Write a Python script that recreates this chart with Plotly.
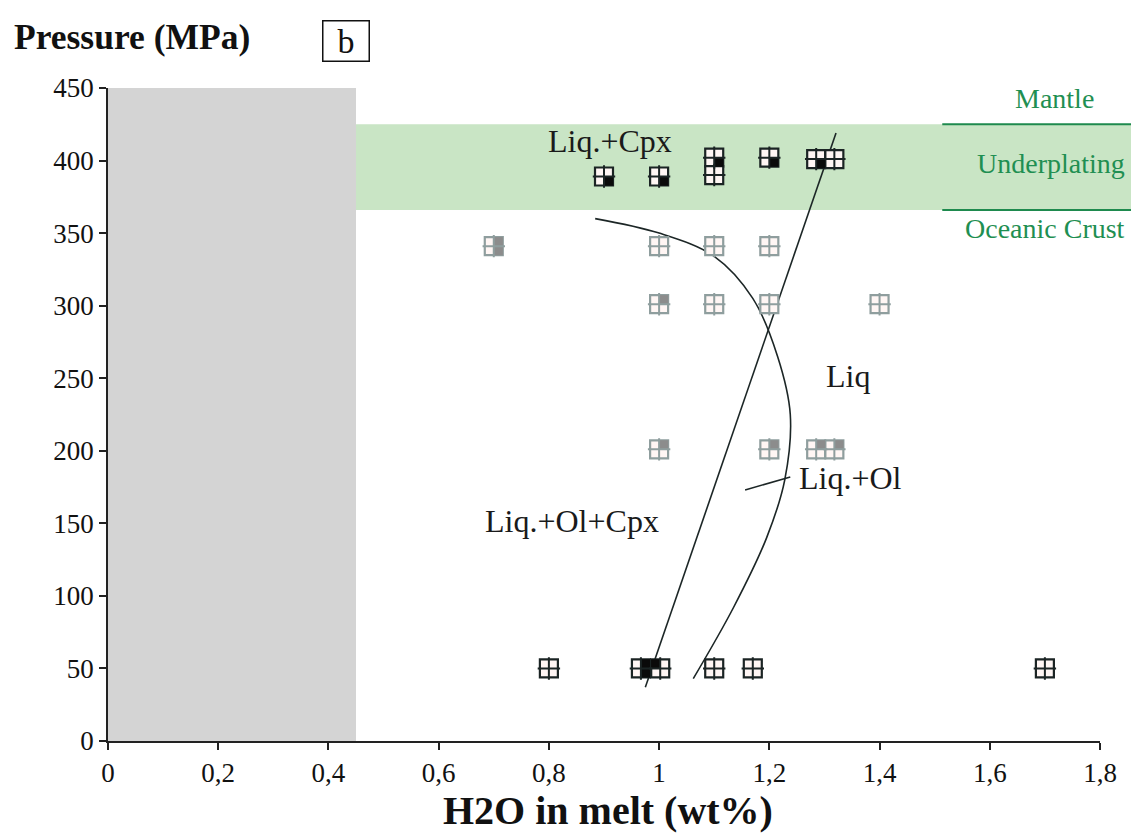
import plotly.graph_objects as go

# ---------------- data ----------------
# Underplating experiments (~400 MPa), black symbols
up_x = [0.90, 1.00, 1.10, 1.10, 1.20, 1.285, 1.318]
up_y = [389, 389, 402, 390, 402, 401, 401]
up_fill = [["BR"], ["BR"], ["BR"], [], ["BR"], ["BR"], []]

# Oceanic crust experiments, grey symbols
oc_x = [0.70, 1.00, 1.10, 1.20, 1.00, 1.10, 1.20, 1.40, 1.00, 1.20, 1.285, 1.318]
oc_y = [341, 341, 341, 341, 301, 301, 301, 301, 201, 201, 201, 201]
oc_fill = [["TR", "BR"], [], [], [], ["TR"], [], [], [], ["TR"], ["TR"], ["TR"], ["TR"]]

# Low pressure experiments (50 MPa), black symbols
lp_x = [0.80, 0.967, 1.002, 1.10, 1.17, 1.70]
lp_y = [50, 50, 50, 50, 50, 50]
lp_fill = [[], ["TR", "BR"], ["TL"], [], [], []]

# Phase boundaries
cpx_line_x = [0.975, 1.321]
cpx_line_y = [37, 419]
ol_curve_x = [0.884, 1.0, 1.10, 1.17, 1.215, 1.238, 1.228, 1.195, 1.135, 1.062]
ol_curve_y = [360, 350, 334, 305, 265, 225, 180, 140, 92, 43]
leader_x = [1.156, 1.238]
leader_y = [173, 182]

x_ticks = [0, 0.2, 0.4, 0.6, 0.8, 1.0, 1.2, 1.4, 1.6, 1.8]
y_ticks = [0, 50, 100, 150, 200, 250, 300, 350, 400, 450]

# ---------------- figure ----------------
W, H = 1131, 826
ML, MR, MT, MB = 100, 39, 80, 93
XR = (0, 1.8)
YR = (0, 450)
px_per_x = (W - ML - MR) / (XR[1] - XR[0])
px_per_y = (H - MT - MB) / (YR[1] - YR[0])

SERIF = "Liberation Serif"
GREEN_TXT = "#1f8f52"
GREEN_LINE = "#1e8a4e"
GREEN_BAND = "#c9e5c5"
INK = "#1c2626"

fig = go.Figure()

# grey region (H2O < 0.45)
fig.add_shape(type="rect", xref="x", yref="y", x0=0, x1=0.45, y0=0, y1=450,
              fillcolor="#d4d4d4", line=dict(width=0), layer="below")
# underplating band
fig.add_shape(type="rect", xref="paper", yref="y", x0=0.45 / 1.8, x1=1.05, y0=366, y1=425,
              fillcolor=GREEN_BAND, line=dict(width=0), layer="below")
for yy in (366, 425):
    fig.add_shape(type="line", xref="paper", yref="y", x0=0.841, x1=1.05, y0=yy, y1=yy,
                  line=dict(color=GREEN_LINE, width=2))

# phase boundary lines
fig.add_trace(go.Scatter(x=cpx_line_x, y=cpx_line_y, mode="lines",
                         line=dict(color=INK, width=1.6), hoverinfo="skip", showlegend=False))
fig.add_trace(go.Scatter(x=ol_curve_x, y=ol_curve_y, mode="lines",
                         line=dict(color=INK, width=1.6, shape="spline", smoothing=1.0),
                         hoverinfo="skip", showlegend=False))
fig.add_trace(go.Scatter(x=leader_x, y=leader_y, mode="lines",
                         line=dict(color=INK, width=1.6), hoverinfo="skip", showlegend=False))

SIZE = 18
OFF = 4.6
QUAD = {"TL": (-1, 1), "TR": (1, 1), "BL": (-1, -1), "BR": (1, -1)}


def add_quads(xs, ys, fills, frame, fillc):
    fig.add_trace(go.Scatter(x=xs, y=ys, mode="markers",
                             marker=dict(symbol="square", size=SIZE, color="#fff6f4",
                                         line=dict(color=frame, width=2.2)),
                             showlegend=False, hoverinfo="skip"))
    qx, qy = [], []
    for x, y, f in zip(xs, ys, fills):
        for q in f:
            sx, sy = QUAD[q]
            qx.append(x + sx * OFF / px_per_x)
            qy.append(y + sy * OFF / px_per_y)
    if qx:
        fig.add_trace(go.Scatter(x=qx, y=qy, mode="markers",
                                 marker=dict(symbol="square", size=9, color=fillc, line=dict(width=0)),
                                 showlegend=False, hoverinfo="skip"))
    fig.add_trace(go.Scatter(x=xs, y=ys, mode="markers",
                             marker=dict(symbol="cross-thin", size=SIZE - 2,
                                         line=dict(color=frame, width=2)),
                             showlegend=False, hoverinfo="skip"))


add_quads(up_x, up_y, up_fill, "#1b2424", "#0a0a0a")
add_quads(oc_x, oc_y, oc_fill, "#8f9e9e", "#8c8c8c")
add_quads(lp_x, lp_y, lp_fill, "#1b2424", "#0a0a0a")

# phase field labels
for txt, x, y in [("Liq.+Cpx", 0.911, 413.5), ("Liq", 1.343, 251.5),
                  ("Liq.+Ol", 1.347, 181), ("Liq.+Ol+Cpx", 0.842, 151.6)]:
    fig.add_annotation(text=txt, x=x, y=y, xref="x", yref="y", showarrow=False,
                       xanchor="center", yanchor="middle",
                       font=dict(family=SERIF, size=32, color="#1a1a1a"))

# tectonic labels
for txt, x, y in [("Mantle", 0.954, 442.5), ("Underplating", 0.951, 398), ("Oceanic Crust", 0.945, 353)]:
    fig.add_annotation(text=txt, x=x, y=y, xref="paper", yref="y", showarrow=False,
                       xanchor="center", yanchor="middle",
                       font=dict(family=SERIF, size=28, color=GREEN_TXT))

# axis titles
fig.add_annotation(text="<b>Pressure (MPa)</b>", x=-0.0968, y=1.078, xref="paper", yref="paper",
                   xanchor="left", yanchor="middle", showarrow=False,
                   font=dict(family=SERIF, size=35.5, color="#111111"))
fig.add_annotation(text="<b>H2O in melt (wt%)</b>", x=0.504, y=-0.106, xref="paper", yref="paper",
                   xanchor="center", yanchor="middle", showarrow=False,
                   font=dict(family=SERIF, size=40, color="#111111"))
fig.add_annotation(text="b", x=0.24, y=1.072, xref="paper", yref="paper", showarrow=False,
                   xanchor="center", yanchor="middle",
                   width=43, height=37, borderpad=1, bordercolor="#111111", borderwidth=1.5,
                   font=dict(family=SERIF, size=34, color="#111111"))

fig.update_layout(
    width=W, height=H,
    margin=dict(l=ML, r=MR, t=MT, b=MB),
    paper_bgcolor="white", plot_bgcolor="white",
    separators=", ",
    showlegend=False,
    font=dict(family=SERIF, size=27, color="#111111"),
)
fig.update_xaxes(range=list(XR), tickvals=x_ticks, tickformat="~g", showgrid=False, zeroline=False,
                 showline=True, linecolor="#222222", linewidth=1.5, ticks="outside", ticklen=7,
                 tickwidth=1.5, tickcolor="#222222", tickfont=dict(family=SERIF, size=27))
fig.update_yaxes(range=list(YR), tickvals=y_ticks, showgrid=False, zeroline=False,
                 showline=True, linecolor="#222222", linewidth=1.5, ticks="outside", ticklen=7,
                 tickwidth=1.5, tickcolor="#222222", tickfont=dict(family=SERIF, size=27))

fig.write_html("out.html")
